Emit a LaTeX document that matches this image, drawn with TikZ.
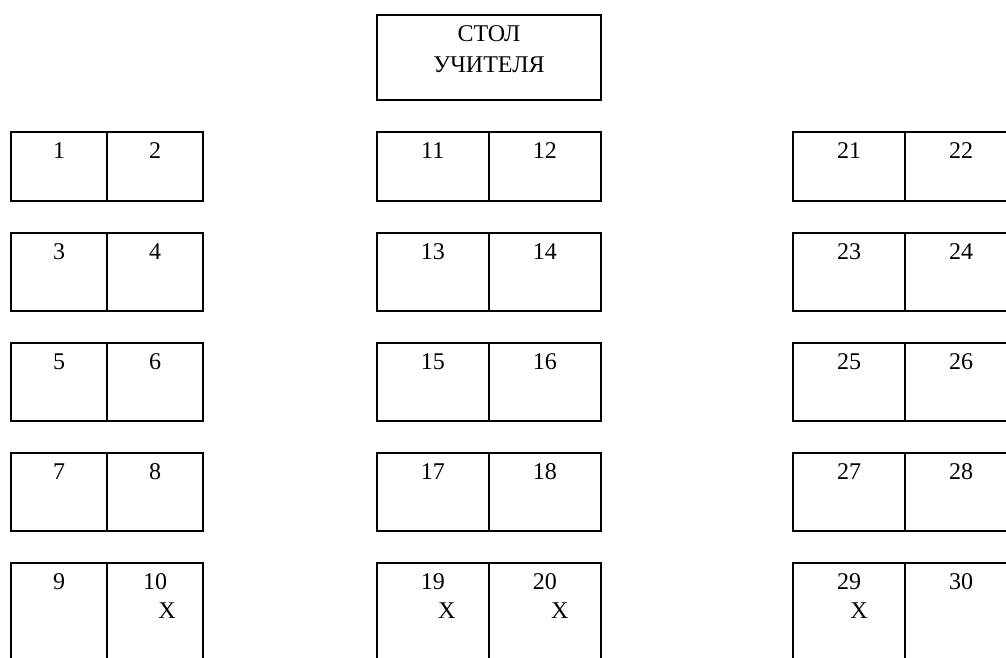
\documentclass[tikz,border=0pt]{standalone}
\usepackage{fontspec}
\setmainfont{Liberation Serif}
\begin{document}
\begin{tikzpicture}[x=1pt,y=-1pt,
  cell/.style={draw,line width=2pt,inner sep=0pt,outer sep=0pt,rectangle},
  num/.style={font=\fontsize{24}{28}\selectfont,anchor=base,inner sep=0pt}]
\useasboundingbox (0,0) rectangle (1006,657);
\clip (0,0) rectangle (1006,657);
% teacher's desk
\node[cell,minimum width=224pt,minimum height=85pt] (desk) at (489,57.5) {};
\node[num] (d1) at ([yshift=-26pt]desk.north) {СТОЛ};
\node[num] (d2) at ([yshift=-57pt]desk.north) {УЧИТЕЛЯ};
% pupils' desks
\foreach \row/\T/\B in {0/132/200.5,1/233/311,2/343/421,3/453/531,4/563/690}{
  \foreach \col/\L/\M/\R in {0/11/107/203,1/377/488.5/601,2/793/905/1017}{
    \pgfmathtruncatemacro\na{\col*10+\row*2+1}
    \pgfmathtruncatemacro\nb{\na+1}
    \pgfmathsetmacro\wa{\M-\L}
    \pgfmathsetmacro\wb{\R-\M}
    \pgfmathsetmacro\hh{\B-\T}
    \pgfmathsetmacro\xa{(\L+\M)/2}
    \pgfmathsetmacro\xb{(\M+\R)/2}
    \pgfmathsetmacro\yc{(\T+\B)/2}
    \node[cell,minimum width=\wa pt,minimum height=\hh pt] (c\na) at (\xa,\yc) {};
    \node[cell,minimum width=\wb pt,minimum height=\hh pt] (c\nb) at (\xb,\yc) {};
    \node[num] (t\na) at ([yshift=-26pt]c\na.north) {\na};
    \node[num] (t\nb) at ([yshift=-26pt]c\nb.north) {\nb};
  }
}
% marks
\node[num] (x10) at ([xshift=12pt,yshift=-55pt]c10.north) {X};
\node[num] (x19) at ([xshift=14pt,yshift=-55pt]c19.north) {X};
\node[num] (x20) at ([xshift=15pt,yshift=-55pt]c20.north) {X};
\node[num] (x29) at ([xshift=10pt,yshift=-55pt]c29.north) {X};
\end{tikzpicture}
\end{document}
